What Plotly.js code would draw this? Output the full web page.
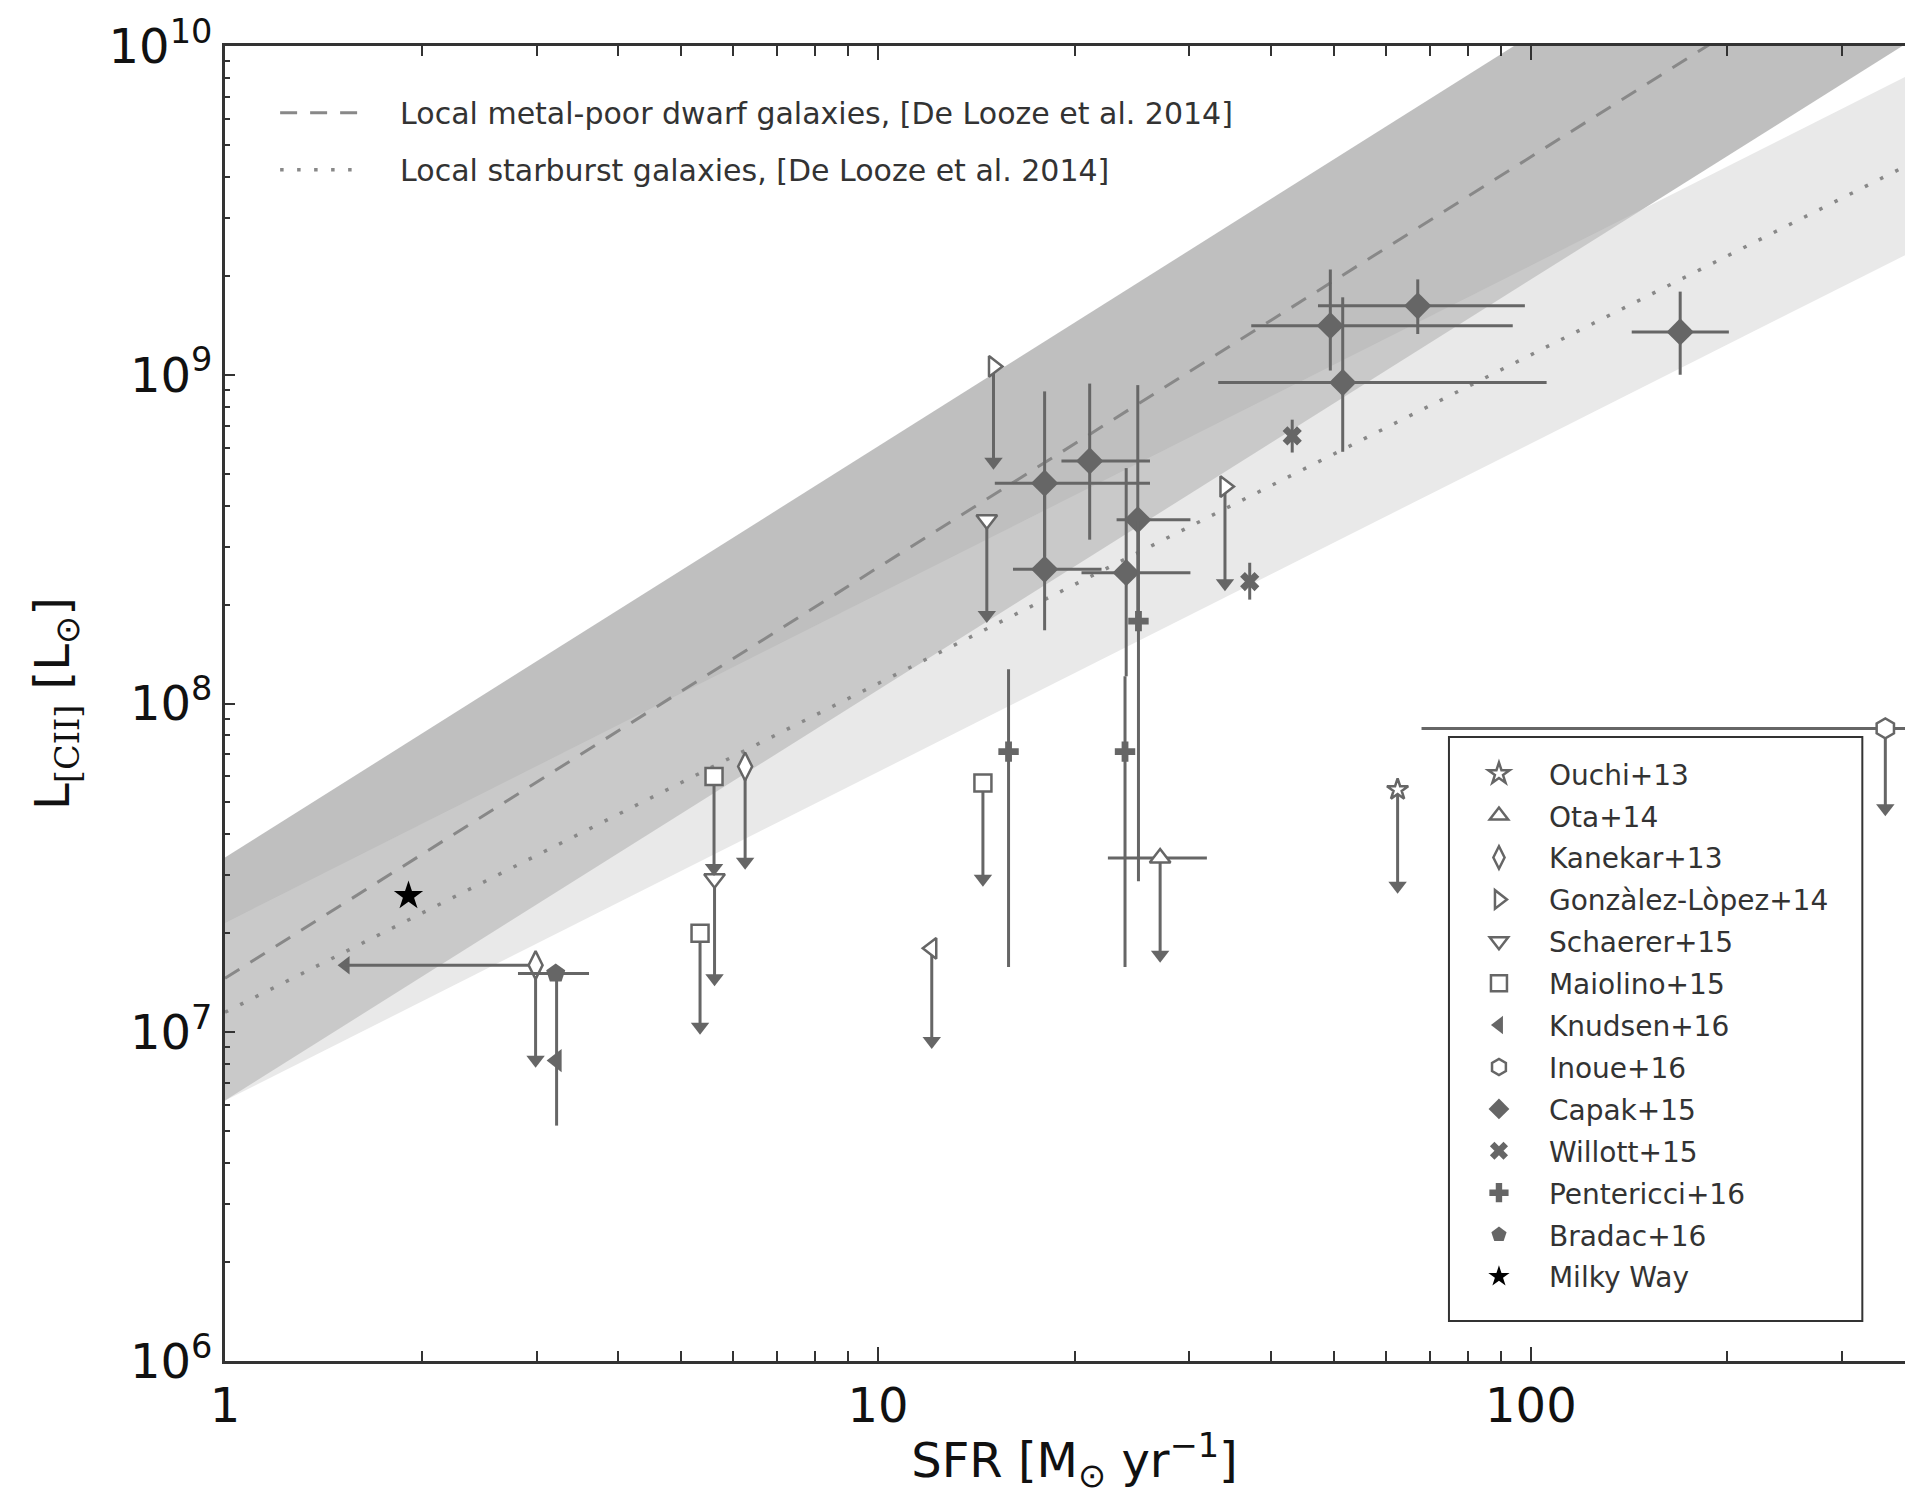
<!DOCTYPE html>
<html><head><meta charset="utf-8">
<script src="https://cdn.plot.ly/plotly-3.0.1.min.js"></script>
<style>html,body{margin:0;padding:0;overflow:hidden;background:#fff}#chart{width:1960px;height:1496px}</style>
</head><body><div id="chart"></div>
<script>
// ---------- axis extents & ticks ----------
const sfrAxisMin = 1, sfrAxisMax = 400;
const lumAxisMin = 1e6, lumAxisMax = 1e10;
const xTickVals = [1, 10, 100];
const xTickText = ['1', '10', '100'];
const yTickVals = [1e6, 1e7, 1e8, 1e9, 1e10];
const yTickText = ['10<sup>6</sup>', '10<sup>7</sup>', '10<sup>8</sup>', '10<sup>9</sup>', '10<sup>10</sup>'];

// ---------- De Looze et al. 2014 relations (read at SFR = 1 and 400) ----------
const relSFR = [1, 400];
const dwarfLineL = [1.46e7, 2.6e10];
const dwarfBandUpper = [3.4e7, 6.1e10];
const dwarfBandLower = [6.2e6, 1.1e10];
const starburstLineL = [1.15e7, 4.6e9];
const starburstBandUpper = [2.15e7, 8.6e9];
const starburstBandLower = [6.2e6, 2.47e9];

// ---------- data ----------
const ouchiSFR = [62.5];
const ouchiL = [5.47e7];
const ouchiLimL = [2.79e7];

const otaSFR = [27.05];
const otaL = [3.39e7];
const otaSFRlo = [22.5];
const otaSFRhi = [31.9];
const otaLimL = [1.72e7];

const kanekarSFR = [2.99, 6.26];
const kanekarL = [1.6e7, 6.43e7];
const kanekarLimL = [8.25e6, 3.3e7];
const kanekarLimSFR = [1.53, null];

const gonzalezSFR = [15.03, 34.0];
const gonzalezL = [1.06e9, 4.57e8];
const gonzalezLimL = [5.44e8, 2.32e8];

const schaererSFR = [14.68, 5.62];
const schaererL = [3.62e8, 2.93e7];
const schaererLimL = [1.86e8, 1.46e7];

const maiolinoSFR = [5.61, 5.34, 14.48];
const maiolinoL = [6.0e7, 2.0e7, 5.73e7];
const maiolinoLimL = [3.16e7, 1.04e7, 2.93e7];

const knudsenSFR = [3.22];
const knudsenL = [8.2e6];
const knudsenLlo = [5.2e6];
const knudsenLhi = [1.45e7];
const knudsenOpenSFR = [12.09];
const knudsenOpenL = [1.8e7];
const knudsenOpenLimL = [9.4e6];

const inoueSFR = [349];
const inoueL = [8.4e7];
const inoueSFRlo = [68];
const inoueSFRhi = [600];
const inoueLimL = [4.8e7];

const capakSFR = [18.0, 18.0, 21.1, 24.0, 25.0, 49.3, 67.1, 51.5, 169.3];
const capakL = [4.68e8, 2.56e8, 5.47e8, 2.5e8, 3.62e8, 1.41e9, 1.62e9, 9.47e8, 1.35e9];
const capakSFRlo = [15.1, 16.1, 19.1, 20.5, 23.2, 37.3, 47.2, 33.2, 142.7];
const capakSFRhi = [26.1, 22.0, 26.1, 30.1, 30.1, 93.8, 97.9, 105.7, 201];
const capakLlo = [2.8e8, 1.67e8, 3.15e8, 1.21e8, 1.8e8, 1.03e9, 1.33e9, 5.83e8, 1.0e9];
const capakLhi = [8.9e8, 4.5e8, 9.4e8, 5.2e8, 9.3e8, 2.09e9, 1.95e9, 1.72e9, 1.79e9];

const willottSFR = [43.1, 37.1];
const willottL = [6.52e8, 2.35e8];
const willottLlo = [5.8e8, 2.07e8];
const willottLhi = [7.3e8, 2.68e8];

const pentericciSFR = [15.85, 23.9, 25.06];
const pentericciL = [7.14e7, 7.14e7, 1.78e8];
const pentericciLlo = [1.58e7, 1.58e7, 2.88e7];
const pentericciLhi = [1.27e8, 1.21e8, 3.6e8];

const bradacSFR = [3.21];
const bradacL = [1.51e7];
const bradacSFRlo = [2.81];
const bradacSFRhi = [3.61];

const milkyWaySFR = [1.91];
const milkyWayL = [2.6e7];

// ---------- styling ----------
const GRAY = '#666666';
const FONT = 'DejaVu Sans';
const EB = {thickness: 3, width: 0, color: GRAY};
const PAD = '\u2002\u2002';

function errY(y, lo, hi) {
  return Object.assign({type: 'data', symmetric: false,
    array: y.map((v, i) => (hi && hi[i] != null) ? hi[i] - v : 0),
    arrayminus: y.map((v, i) => (lo && lo[i] != null) ? v - lo[i] : 0)}, EB);
}
function errX(x, lo, hi) {
  return Object.assign({type: 'data', symmetric: false,
    array: x.map((v, i) => (hi && hi[i] != null) ? hi[i] - v : 0),
    arrayminus: x.map((v, i) => (lo && lo[i] != null) ? v - lo[i] : 0)}, EB);
}

const traces = [];
// bands
traces.push({x: [relSFR[0], relSFR[1], relSFR[1], relSFR[0]],
  y: [dwarfBandUpper[0], dwarfBandUpper[1], dwarfBandLower[1], dwarfBandLower[0]],
  mode: 'lines', fill: 'toself', fillcolor: 'rgba(128,128,128,0.5)', line: {width: 0},
  showlegend: false, hoverinfo: 'skip'});
traces.push({x: [relSFR[0], relSFR[1], relSFR[1], relSFR[0]],
  y: [starburstBandUpper[0], starburstBandUpper[1], starburstBandLower[1], starburstBandLower[0]],
  mode: 'lines', fill: 'toself', fillcolor: 'rgba(211,211,211,0.5)', line: {width: 0},
  showlegend: false, hoverinfo: 'skip'});
// relations
traces.push({x: relSFR, y: dwarfLineL, mode: 'lines', name: PAD + 'Local metal-poor dwarf galaxies, [De Looze et al. 2014]',
  line: {color: '#888888', width: 3, dash: '17px,13px'}, legend: 'legend', legendgroup: 'l1'});
traces.push({x: relSFR, y: starburstLineL, mode: 'lines', name: PAD + 'Local starburst galaxies, [De Looze et al. 2014]',
  line: {color: '#888888', width: 3.5, dash: '3.5px,13.5px'}, legend: 'legend', legendgroup: 'l2'});

function arrowsDown(x, lim, group) {
  const xs = [], ys = [];
  x.forEach((v, i) => { if (lim[i] != null) { xs.push(v); ys.push(lim[i]); } });
  return {x: xs, y: ys, mode: 'markers', showlegend: false, legendgroup: group, legend: 'legend2',
    marker: {symbol: 'triangle-down', size: 16, color: GRAY, line: {width: 0}}, hoverinfo: 'skip'};
}
function arrowsLeft(y, lim, group) {
  const xs = [], ys = [];
  y.forEach((v, i) => { if (lim[i] != null) { xs.push(lim[i]); ys.push(v); } });
  return {x: xs, y: ys, mode: 'markers', showlegend: false, legendgroup: group, legend: 'legend2',
    marker: {symbol: 'triangle-left', size: 16, color: GRAY, line: {width: 0}}, hoverinfo: 'skip'};
}
function openM(symbol, size) { return {symbol: symbol, size: size, color: 'white', line: {color: GRAY, width: 2.5}}; }
function fillM(symbol, size, col) { return {symbol: symbol, size: size, color: col || GRAY, line: {width: 0}}; }

function add(name, x, y, marker, ex, ey, extra) {
  const t = {x: x, y: y, mode: 'markers', name: name, marker: marker, legend: 'legend2', legendgroup: name};
  if (ex) t.error_x = ex;
  if (ey) t.error_y = ey;
  if (extra) traces.push(...extra);
  traces.push(t);
}

add('Ouchi+13', ouchiSFR, ouchiL, openM('star', 16), null, errY(ouchiL, ouchiLimL, null),
  [arrowsDown(ouchiSFR, ouchiLimL, 'Ouchi+13')]);
add('Ota+14', otaSFR, otaL, openM('triangle-up', 18), errX(otaSFR, otaSFRlo, otaSFRhi), errY(otaL, otaLimL, null),
  [arrowsDown(otaSFR, otaLimL, 'Ota+14')]);
add('Kanekar+13', kanekarSFR, kanekarL, openM('diamond-tall', 20), errX(kanekarSFR, kanekarLimSFR, null), errY(kanekarL, kanekarLimL, null),
  [arrowsDown(kanekarSFR, kanekarLimL, 'Kanekar+13'), arrowsLeft(kanekarL, kanekarLimSFR, 'Kanekar+13')]);
add('Gonzàlez-Lòpez+14', gonzalezSFR, gonzalezL, openM('triangle-right', 18), null, errY(gonzalezL, gonzalezLimL, null),
  [arrowsDown(gonzalezSFR, gonzalezLimL, 'Gonzàlez-Lòpez+14')]);
add('Schaerer+15', schaererSFR, schaererL, openM('triangle-down', 18), null, errY(schaererL, schaererLimL, null),
  [arrowsDown(schaererSFR, schaererLimL, 'Schaerer+15')]);
add('Maiolino+15', maiolinoSFR, maiolinoL, openM('square', 17), null, errY(maiolinoL, maiolinoLimL, null),
  [arrowsDown(maiolinoSFR, maiolinoLimL, 'Maiolino+15')]);
// open Knudsen-style limit
traces.push(arrowsDown(knudsenOpenSFR, knudsenOpenLimL, 'Knudsen+16'));
traces.push({x: knudsenOpenSFR, y: knudsenOpenL, mode: 'markers', showlegend: false, legend: 'legend2', legendgroup: 'Knudsen+16',
  marker: openM('triangle-left', 18), error_y: errY(knudsenOpenL, knudsenOpenLimL, null)});
add('Knudsen+16', knudsenSFR, knudsenL, fillM('triangle-left', 20), null, errY(knudsenL, knudsenLlo, knudsenLhi));
add('Inoue+16', inoueSFR, inoueL, openM('hexagon', 20), errX(inoueSFR, inoueSFRlo, inoueSFRhi), errY(inoueL, inoueLimL, null),
  [arrowsDown(inoueSFR, inoueLimL, 'Inoue+16')]);
add('Capak+15', capakSFR, capakL, fillM('diamond', 21), errX(capakSFR, capakSFRlo, capakSFRhi), errY(capakL, capakLlo, capakLhi));
add('Willott+15', willottSFR, willottL, fillM('x', 17), null, errY(willottL, willottLlo, willottLhi));
add('Pentericci+16', pentericciSFR, pentericciL, fillM('cross', 17), null, errY(pentericciL, pentericciLlo, pentericciLhi));
add('Bradac+16', bradacSFR, bradacL, fillM('pentagon', 20), errX(bradacSFR, bradacSFRlo, bradacSFRhi), null);
add('Milky Way', milkyWaySFR, milkyWayL, fillM('star', 22, '#000000'));

// minor ticks
const xMinor = [], yMinor = [];
for (let d = 0; d <= 2; d++) for (let k = 2; k <= 9; k++) xMinor.push(k * Math.pow(10, d));
for (let d = 6; d <= 9; d++) for (let k = 2; k <= 9; k++) yMinor.push(k * Math.pow(10, d));

const AX = {type: 'log', showgrid: false, zeroline: false, showline: true, linecolor: '#333', linewidth: 3,
  mirror: 'ticks', ticks: 'inside', tickcolor: '#333', tickwidth: 2, tickmode: 'array', automargin: false,
  tickfont: {family: FONT, size: 48, color: '#111'}};

const layout = {
  width: 1960, height: 1496,
  margin: {l: 225, r: 36, t: 46, b: 135},
  paper_bgcolor: '#fff', plot_bgcolor: '#fff',
  font: {family: FONT, color: '#111'},
  xaxis: Object.assign({}, AX, {range: [Math.log10(sfrAxisMin), Math.log10(sfrAxisMax)],
    tickvals: xTickVals, ticktext: xTickText, ticklen: 14,
    minor: {tickmode: 'array', tickvals: xMinor, ticks: 'inside', ticklen: 10, tickwidth: 2, tickcolor: '#333', showgrid: false},
    title: {text: 'SFR [M<sub>⊙</sub> yr<sup>−1</sup>]', font: {family: FONT, size: 48, color: '#111'}, standoff: 12}}),
  yaxis: Object.assign({}, AX, {range: [Math.log10(lumAxisMin), Math.log10(lumAxisMax)],
    tickvals: yTickVals, ticktext: yTickText, ticklen: 10,
    minor: {tickmode: 'array', tickvals: yMinor, ticks: 'inside', ticklen: 5, tickwidth: 2, tickcolor: '#333', showgrid: false},
    title: {text: 'L<sub><span style="font-family:DejaVu Serif">[CII]</span></sub> [L<sub>⊙</sub>]', font: {family: FONT, size: 48, color: '#111'}, standoff: 24}}),
  legend: {x: 0.0295, y: 0.969, xanchor: 'left', yanchor: 'top', bgcolor: 'rgba(0,0,0,0)', borderwidth: 0,
    font: {family: FONT, size: 30, color: '#333'}, itemwidth: 85, tracegroupgap: 15},
  legend2: {x: 0.7204, y: 0.4654, xanchor: 'left', yanchor: 'top', bgcolor: 'rgba(0,0,0,0)', borderwidth: 0,
    font: {family: FONT, size: 28, color: '#333'}, itemwidth: 90, tracegroupgap: 2.5, itemsizing: 'trace'},
  shapes: [{type: 'rect', xref: 'paper', yref: 'paper', layer: 'above',
    x0: 0.7204, x1: 0.9637, y0: 0.0304, y1: 0.4745,
    fillcolor: '#ffffff', line: {color: '#333', width: 2}}],
  showlegend: true
};

Plotly.newPlot('chart', traces, layout, {staticPlot: true});
</script></body></html>
